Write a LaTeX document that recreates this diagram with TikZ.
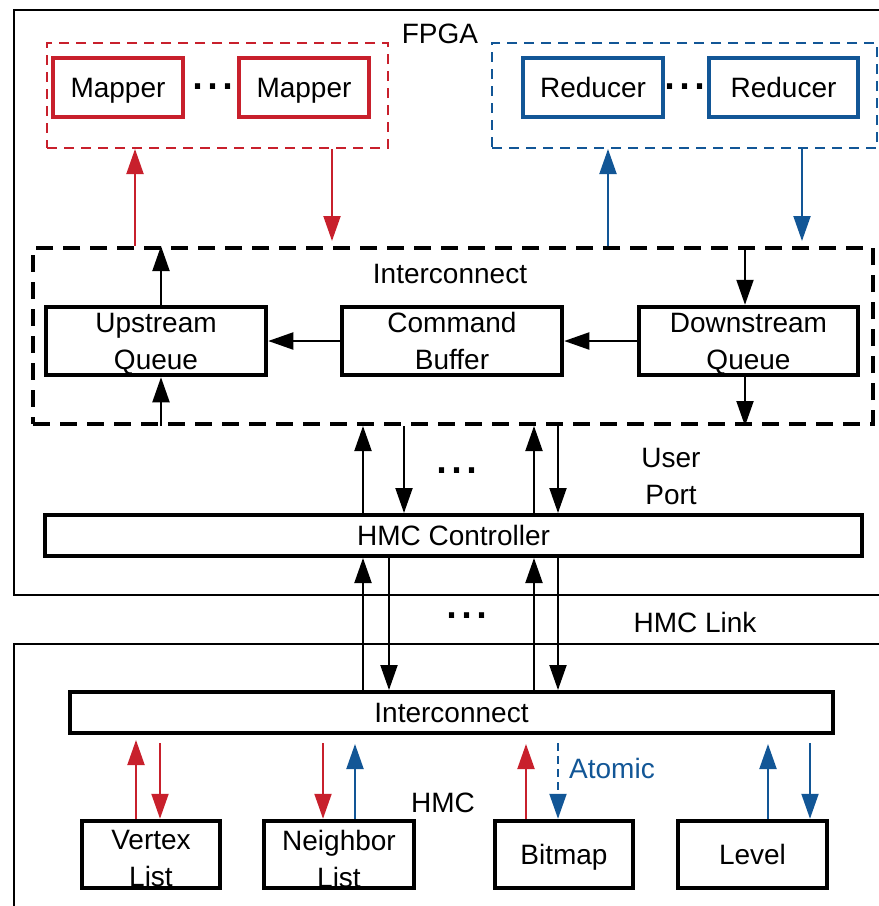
\documentclass[tikz,border=0pt]{standalone}
\usepackage{fontspec}
\setmainfont{Liberation Sans}
\usetikzlibrary{arrows.meta,calc}
\definecolor{mred}{RGB}{200,32,44}
\definecolor{mblue}{RGB}{18,86,150}
\begin{document}
\begin{tikzpicture}[x=1pt,y=-1pt,
  font=\fontsize{28}{37}\selectfont,
  box/.style={draw,line width=4.5pt,inner sep=0pt,align=center},
  thinbox/.style={draw,line width=4pt,inner sep=0pt,align=center},
  redbox/.style={box,draw=mred},
  bluebox/.style={box,draw=mblue},
  one/.style={text height=20pt,text depth=0pt},
  grpbox/.style={draw,line width=2pt,dash pattern=on 10pt off 7pt,inner sep=0pt},
  icbox/.style={draw,line width=4pt,dash pattern=on 17pt off 10pt,inner sep=0pt},
  arr/.style={-{Triangle[width=17pt,length=25pt]},line width=2pt},
  dots/.style={inner sep=0pt,font=\fontsize{54}{54}\selectfont},
  lbl/.style={inner sep=0pt,align=center}]
\useasboundingbox (0,0) rectangle (879,906);
\clip (0,0) rectangle (879,906);

% enclosing regions
\draw[line width=2.5pt] (14,10) rectangle (900,595);
\draw[line width=2pt] (14,644) rectangle (900,930);
\node[lbl,one] (fpga) at (440,33) {FPGA};
\node[lbl,one] (hmclbl) at (443,802) {HMC};

% mapper and reducer groups
\node[grpbox,draw=mred,minimum width=341pt,minimum height=105pt] (mapgrp) at (217.5,95.5) {};
\node[grpbox,draw=mblue,minimum width=385pt,minimum height=105pt] (redgrp) at (684.5,95.5) {};
\node[redbox,one,minimum width=130pt,minimum height=59pt] (map1) at (118,87.5) {Mapper};
\node[redbox,one,minimum width=130pt,minimum height=59pt] (map2) at (304,87.5) {Mapper};
\node[bluebox,one,minimum width=140pt,minimum height=59pt] (red1) at (593,87.5) {Reducer};
\node[bluebox,one,minimum width=149pt,minimum height=59pt] (red2) at (783.5,87.5) {Reducer};
\node[dots] (mdots) at (213,87) {...};
\node[dots] (rdots) at (685,87) {...};

% FPGA interconnect
\node[icbox,minimum width=840pt,minimum height=176pt] (ic) at (453,336) {};
\node[lbl,one] (iclbl) at (450,273) {Interconnect};
\node[box,minimum width=220pt,minimum height=68pt] (upq) at (156,341) {};
\node[box,minimum width=220pt,minimum height=68pt] (cmd) at (452,341) {};
\node[box,minimum width=219pt,minimum height=68pt] (dnq) at (748.5,341) {};
\node[lbl] (upqtext) at ($(upq.center)+(0,3)$) {Upstream\\Queue};
\node[lbl] (cmdtext) at ($(cmd.center)+(0,0)$) {Command\\Buffer};
\node[lbl] (dnqtext) at ($(dnq.center)+(0,3)$) {Downstream\\Queue};

% HMC controller and HMC interconnect
\node[thinbox,one,minimum width=817pt,minimum height=41pt] (hc) at (453.5,535.5) {HMC Controller};
\node[thinbox,one,minimum width=763pt,minimum height=41pt] (hic) at (451.5,712.5) {Interconnect};
\node[lbl] (uport) at (671,476) {User\\Port};
\node[lbl,one] (hlink) at (695,622) {HMC Link};
\node[dots] (pdots) at (457,471) {...};
\node[dots] (ldots) at (467,616) {...};

% memory regions
\node[box,minimum width=138pt,minimum height=67pt] (vtx) at (151,854.5) {};
\node[box,minimum width=150pt,minimum height=67pt] (nbr) at (339,854.5) {};
\node[box,one,minimum width=138pt,minimum height=67pt] (bmp) at (564,854.5) {Bitmap};
\node[box,one,minimum width=149pt,minimum height=67pt] (lvl) at (752.5,854.5) {Level};
\node[lbl] (vtxtext) at ($(vtx.center)+(0,4)$) {Vertex\\List};
\node[lbl] (nbrtext) at ($(nbr.center)+(0,4)$) {Neighbor\\List};
\node[lbl,one,text=mblue] (atomic) at (612,768) {Atomic};

% x positions of the vertical connectors
\coordinate (x135) at (135,0);
\coordinate (x332) at (332,0);
\coordinate (x608) at (608,0);
\coordinate (x802) at (802,0);
\coordinate (x161) at (161,0);
\coordinate (x745) at (745,0);
\coordinate (x363) at (363,0);
\coordinate (x404) at (404,0);
\coordinate (x389) at (389,0);
\coordinate (x534) at (534,0);
\coordinate (x558) at (558,0);
\coordinate (x136) at (136,0);
\coordinate (x160) at (160,0);
\coordinate (x323) at (323,0);
\coordinate (x355) at (355,0);
\coordinate (x526) at (526,0);
\coordinate (x768) at (768,0);
\coordinate (x810) at (810,0);

% mappers and reducers to the interconnect
\draw[arr,mred] (ic.north -| x135) -- (mapgrp.south -| x135);
\draw[arr,mred,shorten >=5pt] (mapgrp.south -| x332) -- (ic.north -| x332);
\draw[arr,mblue] (ic.north -| x608) -- (redgrp.south -| x608);
\draw[arr,mblue,shorten >=5pt] (redgrp.south -| x802) -- (ic.north -| x802);

% inside the interconnect
\draw[arr] (upq.north -| x161) -- (ic.north -| x161);
\draw[arr] (ic.south -| x161) -- (upq.south -| x161);
\draw[arr] (ic.north -| x745) -- (dnq.north -| x745);
\draw[arr] (dnq.south -| x745) -- (ic.south -| x745);
\draw[arr] (cmd.west) -- (upq.east);
\draw[arr] (dnq.west) -- (cmd.east);

% user ports
\draw[arr] (hc.north -| x363) -- (ic.south -| x363);
\draw[arr] (ic.south -| x404) -- (hc.north -| x404);
\draw[arr] (hc.north -| x534) -- (ic.south -| x534);
\draw[arr] (ic.south -| x558) -- (hc.north -| x558);

% HMC links
\draw[arr] (hic.north -| x363) -- (hc.south -| x363);
\draw[arr] (hc.south -| x389) -- (hic.north -| x389);
\draw[arr] (hic.north -| x534) -- (hc.south -| x534);
\draw[arr] (hc.south -| x558) -- (hic.north -| x558);

% memory accesses
\draw[arr,mred,shorten >=5pt] (vtx.north -| x136) -- (hic.south -| x136);
\draw[arr,mred,shorten <=8pt] (hic.south -| x160) -- (vtx.north -| x160);
\draw[arr,mred,shorten <=8pt] (hic.south -| x323) -- (nbr.north -| x323);
\draw[arr,mblue,shorten >=9pt] (nbr.north -| x355) -- (hic.south -| x355);
\draw[arr,mred,shorten >=9pt] (bmp.north -| x526) -- (hic.south -| x526);
\draw[arr,mblue,dash pattern=on 8pt off 5pt,shorten <=8pt] (hic.south -| x558) -- (bmp.north -| x558);
\draw[arr,mblue,shorten >=9pt] (lvl.north -| x768) -- (hic.south -| x768);
\draw[arr,mblue,shorten <=8pt] (hic.south -| x810) -- (lvl.north -| x810);
\end{tikzpicture}
\end{document}
